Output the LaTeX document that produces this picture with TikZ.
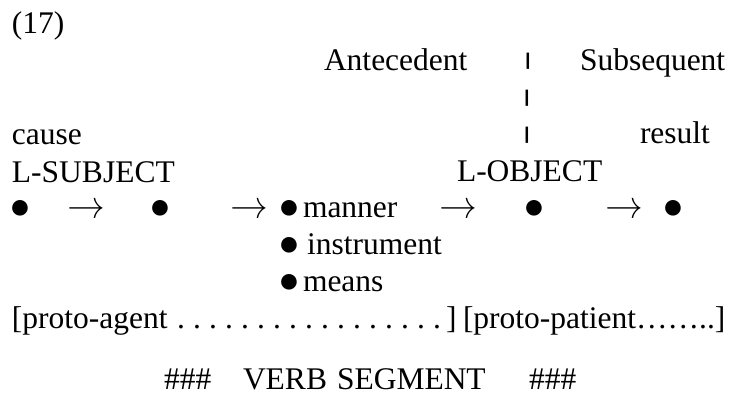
\documentclass[tikz,border=0pt]{standalone}
\usepackage{fontspec}
\setmainfont{Liberation Serif}
\newfontfamily\lmr{Latin Modern Roman}
\newcommand\bul{\scalebox{1.15}{●}}
\newcommand\arr{\scalebox{1.28}{\lmr →}}
\newcommand\vb{\raisebox{4.5pt}{\scalebox{1.6}[0.567]{|}}}
\newcommand\ld{\makebox[16pt]{.}}
\begin{document}
\begin{tikzpicture}[x=1pt,y=-1pt,
  every node/.style={inner sep=0pt,outer sep=0pt,font=\fontsize{31.5}{36}\selectfont},
  txt/.style={anchor=base west},
  mid/.style={anchor=base},
  pt/.style={anchor=center}]
\useasboundingbox (0,0) rectangle (734,405);
\node[txt] (num) at (12,33) {(17)};
\node[txt] (ante) at (324,70) {Antecedent};
\node[mid] (bar1) at (528,70) {\vb};
\node[txt] (subs) at (580,70) {Subsequent};
\node[mid] (bar2) at (527,107) {\vb};
\node[txt] (cause) at (12,144) {cause};
\node[mid] (bar3) at (527,144) {\vb};
\node[txt] (result) at (640,143) {result};
\node[txt] (lsub) at (12,182) {L-SUBJECT};
\node[txt] (lobj) at (457,181) {L-OBJECT};
% row of points
\node[mid] (b1) at (20,218) {\bul};
\node[pt] (a1) at (86,208) {\arr};
\node[mid] (b2) at (160,218) {\bul};
\node[pt] (a2) at (249,208) {\arr};
\node[mid] (b3) at (289,218) {\bul};
\node[txt] (manner) at (303,217) {manner};
\node[pt] (a3) at (458,208) {\arr};
\node[mid] (b4) at (534,218) {\bul};
\node[pt] (a4) at (624,208) {\arr};
\node[mid] (b5) at (673,218) {\bul};
\node[mid] (b6) at (289,255) {\bul};
\node[txt] (instr) at (307,254) {instrument};
\node[mid] (b7) at (289,292) {\bul};
\node[txt] (means) at (303,291) {means};
% proto line
\node[txt] (pa) at (12,328) {[proto-agent};
\node[txt] (dots) at (173,328) {\ld\ld\ld\ld\ld\ld\ld\ld\ld\ld\ld\ld\ld\ld\ld\ld\ld};
\node[txt] (rb) at (446,328) {]};
\node[txt] (pp) at (463,328) {[proto-patient……..]};
% verb segment
\node[txt] (h1) at (164,389) {\#\#\#};
\node[txt] (verb) at (243,389) {VERB};
\node[txt] (seg) at (337,389) {SEGMENT};
\node[txt] (h2) at (529,389) {\#\#\#};
\end{tikzpicture}
\end{document}
